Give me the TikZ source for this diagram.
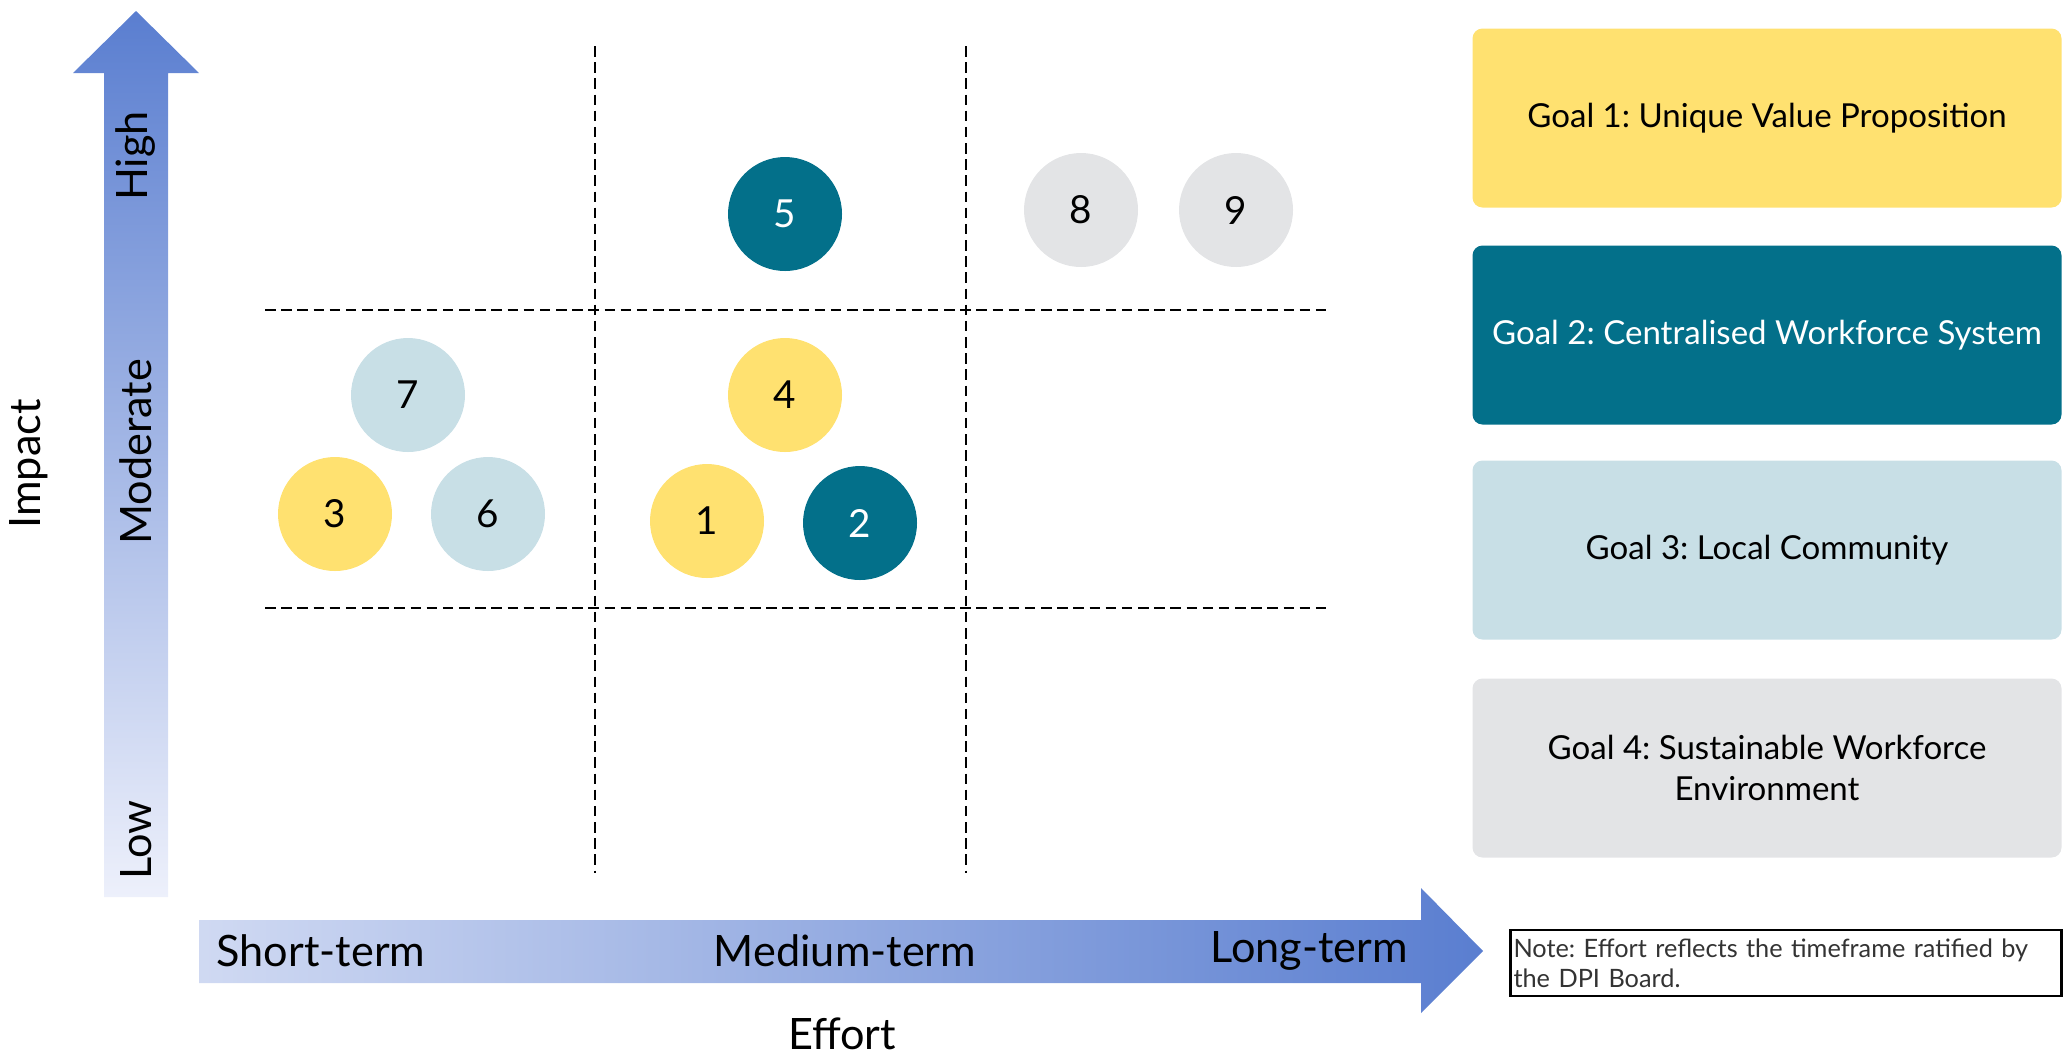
\documentclass[tikz,border=0pt]{standalone}
\usepackage{fontspec}
\setmainfont{Lato}
\frenchspacing
\definecolor{goalyellow}{HTML}{FFE170}
\definecolor{goalteal}{HTML}{03708A}
\definecolor{goalblue}{HTML}{C8DFE6}
\definecolor{goalgrey}{HTML}{E3E4E6}
\definecolor{arrowdark}{HTML}{5A7ED0}
\definecolor{arrowpale}{HTML}{EDF0FB}
\definecolor{notetext}{HTML}{333333}
\begin{document}
\begin{tikzpicture}[x=0.1mm,y=-0.1mm,
  g/.style={rounded corners=1mm,minimum width=58.9mm,minimum height=17.9mm,
    align=center,font=\fontsize{9.4}{11.6}\selectfont},
  pt/.style={circle,minimum size=11.4mm,inner sep=0pt,font=\fontsize{11}{13}\selectfont},
  lvl/.style={inner sep=0pt,font=\fontsize{12.3}{15}\selectfont},
  grid/.style={line width=0.7pt,dash pattern=on 3pt off 1.6pt}]
  \useasboundingbox (0,0) rectangle (2069,1055);
  % the two axes
  \shade[top color=arrowdark,bottom color=arrowpale]
    (104,897) -- (104,73) -- (73,73) -- (136,11) -- (199,73) -- (168,73) -- (168,897) -- cycle;
  \shade[left color=arrowpale!80!arrowdark,right color=arrowdark]
    (199,920) -- (1421,920) -- (1421,888) -- (1483,951) -- (1421,1013) -- (1421,983) -- (199,983) -- cycle;
  \node[lvl,rotate=90] (high) at (136,156) {High};
  \node[lvl,rotate=90] (mod)  at (136,452) {Moderate};
  \node[lvl,rotate=90] (low)  at (136,840) {Low};
  \node[lvl,rotate=90] (impact) at (29,464) {Impact};
  \node[lvl] (short)  at (321,951) {Short-term};
  \node[lvl] (medium) at (845,951) {Medium-term};
  \node[lvl] (long)   at (1309,951) {Long-term};
  \node[lvl] (effort) at (842,1034) {Effort};
  % grid
  \draw[grid] (595,46) -- (595,873);
  \draw[grid] (966,46) -- (966,873);
  \draw[grid] (265,310) -- (1329,310);
  \draw[grid] (265,608) -- (1329,608);
  % initiatives
  \node[pt,fill=goalteal,text=white] (p5) at (785,214) {5};
  \node[pt,fill=goalgrey] (p8) at (1081,210) {8};
  \node[pt,fill=goalgrey] (p9) at (1236,210) {9};
  \node[pt,fill=goalblue] (p7) at (408,395) {7};
  \node[pt,fill=goalyellow] (p4) at (785,395) {4};
  \node[pt,fill=goalyellow] (p3) at (335,514) {3};
  \node[pt,fill=goalblue] (p6) at (488,514) {6};
  \node[pt,fill=goalyellow] (p1) at (707,521) {1};
  \node[pt,fill=goalteal,text=white] (p2) at (860,523) {2};
  % legend
  \node[g,fill=goalyellow] (g1) at (1767,118) {Goal 1: Unique Value Proposition};
  \node[g,fill=goalteal,text=white] (g2) at (1767,335) {Goal 2: Centralised Workforce System};
  \node[g,fill=goalblue] (g3) at (1767,550) {Goal 3: Local Community};
  \node[g,fill=goalgrey] (g4) at (1767,768) {Goal 4: Sustainable Workforce\\Environment};
  \node[draw,line width=0.6pt,minimum width=55.1mm,minimum height=6.6mm,inner sep=0.3mm,
    align=left,text width=54.5mm,text=notetext,font=\fontsize{7.2}{8.6}\selectfont]
    (note) at (1786,963) {Note: Effort reflects the timeframe ratified by\\the DPI Board.};
\end{tikzpicture}
\end{document}
